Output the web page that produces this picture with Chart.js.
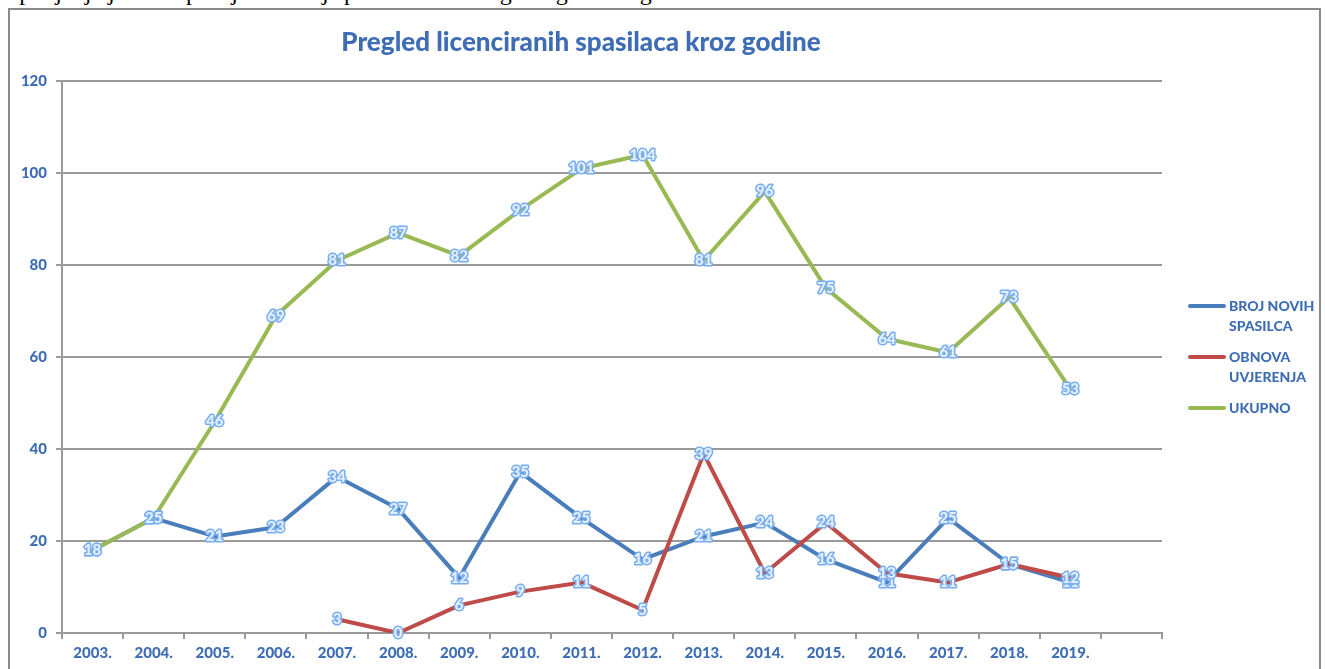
<!DOCTYPE html>
<html>
<head>
<meta charset="utf-8">
<script src="https://cdn.jsdelivr.net/npm/chart.js@4/dist/chart.umd.min.js"></script>
<style>
  html, body { margin: 0; padding: 0; background: #fff; overflow: hidden; }
  #wrap { position: relative; width: 1325px; height: 669px; }
  #topline { position: absolute; left: 6px; top: -21px; font: 24px "Liberation Serif", serif; color: #000; white-space: nowrap; }
  #frame { position: absolute; left: 8px; top: 8px; width: 1313px; height: 700px; border: 2px solid #8a8a8a; box-sizing: border-box; background: transparent; }
  #c { position: absolute; left: 0; top: 0; }
  #legend { position: absolute; left: 1188px; top: 296px; font: 900 14px Lato, sans-serif; color: #3e6db5; }
  .item { display: flex; align-items: flex-start; margin-bottom: 11px; }
  .swatch { width: 38px; height: 4px; border-radius: 2px; margin-top: 8px; margin-right: 3px; flex: none; }
  .txt { line-height: 20px; }
</style>
</head>
<body>
<div id="wrap">
  <div id="topline">Spodjanje jednom primjer za broj spasilaca iz vatrogasnog G volog</div>
  <div id="frame"></div>
  <canvas id="c" width="1325" height="669"></canvas>
  <div id="legend"></div>
</div>
<script>
var years = ['2003.', '2004.', '2005.', '2006.', '2007.', '2008.', '2009.', '2010.', '2011.',
             '2012.', '2013.', '2014.', '2015.', '2016.', '2017.', '2018.', '2019.', ''];

var novi = [18, 25, 21, 23, 34, 27, 12, 35, 25, 16, 21, 24, 16, 11, 25, 15, 11, null];
var obnova = [null, null, null, null, 3, 0, 6, 9, 11, 5, 39, 13, 24, 13, 11, 15, 12, null];
var ukupno = [18, 25, 46, 69, 81, 87, 82, 92, 101, 104, 81, 96, 75, 64, 61, 73, 53, null];

var blueText = '#3e6db5';
var gridGray = '#9a9a9a';

// value labels centred on every point, excel-ish glow look
var pointLabels = {
  id: 'pointLabels',
  afterDatasetsDraw: function(chart) {
    var ctx = chart.ctx;
    ctx.save();
    ctx.font = '900 15px Lato, sans-serif';
    ctx.textAlign = 'center';
    ctx.textBaseline = 'middle';
    ctx.lineJoin = 'round';
    chart.data.datasets.forEach(function(ds, i) {
      var meta = chart.getDatasetMeta(i);
      meta.data.forEach(function(pt, j) {
        var v = ds.data[j];
        if (v === null || v === undefined) return;
        ctx.lineWidth = 3;
        ctx.strokeStyle = '#78aef0';
        ctx.strokeText(String(v), pt.x, pt.y);
        ctx.fillStyle = '#e4effd';
        ctx.fillText(String(v), pt.x, pt.y);
      });
    });
    ctx.restore();
  }
};

var chart = new Chart(document.getElementById('c'), {
  type: 'line',
  data: {
    labels: years,
    datasets: [
      { label: ['BROJ NOVIH', 'SPASILCA'], data: novi, borderColor: '#4a7ebb', order: 2 },
      { label: ['OBNOVA', 'UVJERENJA'], data: obnova, borderColor: '#be4b48', order: 1 },
      { label: ['UKUPNO'], data: ukupno, borderColor: '#98b954', order: 0 }
    ]
  },
  options: {
    responsive: false,
    animation: false,
    datasets: { line: { borderWidth: 4, pointRadius: 0, tension: 0, spanGaps: false, borderCapStyle: 'round', borderJoinStyle: 'round' } },
    layout: { padding: { top: 12, right: 163, bottom: 2, left: 0 } },
    plugins: {
      legend: { display: false },
      tooltip: { enabled: false },
      title: {
        display: true,
        text: 'Pregled licenciranih spasilaca kroz godine',
        color: blueText,
        font: { family: 'Lato, sans-serif', size: 26, weight: '900', lineHeight: 1.2 },
        padding: { top: 15, bottom: 23 }
      }
    },
    scales: {
      x: {
        offset: true,
        grid: { display: true, drawOnChartArea: false, drawTicks: true, tickLength: 6, color: gridGray, lineWidth: 2, offset: true },
        border: { display: true, color: gridGray, width: 2 },
        ticks: { color: blueText, font: { family: 'Lato, sans-serif', size: 15, weight: '900' }, padding: 5, maxRotation: 0, autoSkip: false }
      },
      y: {
        min: 0, max: 120,
        grid: { color: gridGray, lineWidth: 2, tickLength: 6 },
        border: { display: true, color: gridGray, width: 2 },
        ticks: { stepSize: 20, color: blueText, font: { family: 'Lato, sans-serif', size: 15, weight: '900' }, padding: 9 },
        afterFit: function(scale) { scale.width = 62; }
      }
    }
  },
  plugins: [pointLabels]
});

// html legend, multi line labels like the original
var leg = document.getElementById('legend');
chart.data.datasets.forEach(function(ds) {
  var item = document.createElement('div');
  item.className = 'item';
  var sw = document.createElement('div');
  sw.className = 'swatch';
  sw.style.background = ds.borderColor;
  var t = document.createElement('div');
  t.className = 'txt';
  t.innerHTML = ds.label.join('<br>');
  item.appendChild(sw);
  item.appendChild(t);
  leg.appendChild(item);
});
</script>
</body>
</html>
